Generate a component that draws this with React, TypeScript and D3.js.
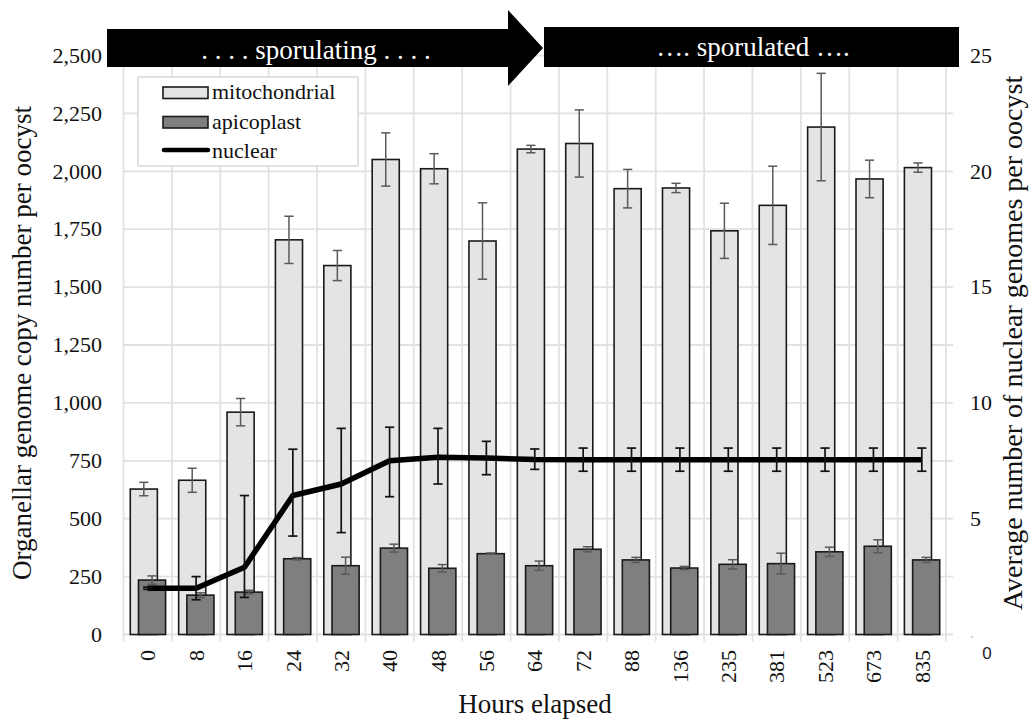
import React from "react";
import * as d3 from "d3";

const categories = ["0", "8", "16", "24", "32", "40", "48", "56", "64", "72", "88", "136", "235", "381", "523", "673", "835"];
const mitoValues = [628, 666, 960, 1704, 1593, 2051, 2011, 1699, 2096, 2120, 1925, 1928, 1743, 1853, 2191, 1967, 2016];
const mitoErrors = [29, 52, 59, 102, 65, 115, 65, 165, 16, 145, 83, 20, 119, 169, 232, 81, 20];
const apicoValues = [235, 170, 183, 327, 297, 373, 286, 349, 297, 368, 322, 287, 303, 306, 357, 381, 322];
const apicoErrors = [18, 10, 8, 5, 37, 17, 16, 3, 20, 11, 11, 7, 20, 45, 20, 28, 11];
const nuclearValues = [2.0, 2.0, 2.9, 6.0, 6.5, 7.5, 7.65, 7.62, 7.56, 7.55, 7.55, 7.55, 7.55, 7.55, 7.55, 7.55, 7.55];
const nuclearErrUp = [0.05, 0.5, 3.1, 2.0, 2.4, 1.45, 1.25, 0.72, 0.45, 0.5, 0.5, 0.5, 0.5, 0.5, 0.5, 0.5, 0.5];
const nuclearErrDown = [0.05, 0.5, 1.3, 1.75, 2.1, 1.55, 1.15, 0.72, 0.43, 0.5, 0.5, 0.5, 0.5, 0.5, 0.5, 0.5, 0.5];
const leftTicks = [0, 250, 500, 750, 1000, 1250, 1500, 1750, 2000, 2250, 2500];
const rightTicks = [5, 10, 15, 20, 25];

const SERIF = "'Liberation Serif', 'Times New Roman', serif";
const MITO_FILL = "#e4e4e4";
const APICO_FILL = "#7f7f7f";
const GRID = "#e2e2e2";

export default function App() {
  const x = d3.scaleBand<string>().domain(categories).range([123.5, 946]);
  const yL = d3.scaleLinear().domain([0, 2500]).range([634.5, 55.5]);
  const yR = d3.scaleLinear().domain([0, 25]).range([634.5, 55.5]);
  const bw = x.bandwidth();
  const center = (c: string) => (x(c) as number) + bw / 2;
  const mitoX = (c: string) => (x(c) as number) + bw * 0.14;
  const apicoX = (c: string) => (x(c) as number) + bw * 0.31;
  const barW = bw * 0.56;
  const cap = 4.6;

  const line = d3
    .line<number>()
    .x((_, i) => center(categories[i]))
    .y((d) => yR(d));

  const boundaries = categories.map((c) => x(c) as number).concat([x.range()[1]]);

  return (
    <svg width={1032} height={719} style={{ position: "absolute", left: 0, top: 0, background: "#fff" }}>
      {leftTicks.map((t) => (
        <line key={"h" + t} x1={123.5} x2={953} y1={yL(t)} y2={yL(t)} stroke={GRID} strokeWidth={1.8} />
      ))}
      {boundaries.map((b, i) => (
        <line key={"v" + i} x1={b} x2={b} y1={yL(2500)} y2={yL(0) + 7} stroke={GRID} strokeWidth={1.8} />
      ))}

      {categories.map((c, i) => (
        <rect
          key={"m" + c}
          x={mitoX(c)}
          y={yL(mitoValues[i])}
          width={barW}
          height={yL(0) - yL(mitoValues[i])}
          fill={MITO_FILL}
          stroke="#1a1a1a"
          strokeWidth={1.6}
        />
      ))}
      {categories.map((c, i) => {
        const cx = mitoX(c) + barW / 2;
        const y1 = yL(mitoValues[i] + mitoErrors[i]);
        const y2 = yL(mitoValues[i] - mitoErrors[i]);
        return (
          <g key={"me" + c} stroke="#5a5a5a" strokeWidth={1.5}>
            <line x1={cx} x2={cx} y1={y1} y2={y2} />
            <line x1={cx - cap} x2={cx + cap} y1={y1} y2={y1} />
            <line x1={cx - cap} x2={cx + cap} y1={y2} y2={y2} />
          </g>
        );
      })}
      {categories.map((c, i) => (
        <rect
          key={"a" + c}
          x={apicoX(c)}
          y={yL(apicoValues[i])}
          width={barW}
          height={yL(0) - yL(apicoValues[i])}
          fill={APICO_FILL}
          stroke="#1a1a1a"
          strokeWidth={1.6}
        />
      ))}
      {categories.map((c, i) => {
        const cx = apicoX(c) + barW / 2;
        const y1 = yL(apicoValues[i] + apicoErrors[i]);
        const y2 = yL(apicoValues[i] - apicoErrors[i]);
        return (
          <g key={"ae" + c} stroke="#5a5a5a" strokeWidth={1.5}>
            <line x1={cx} x2={cx} y1={y1} y2={y2} />
            <line x1={cx - cap} x2={cx + cap} y1={y1} y2={y1} />
            <line x1={cx - cap} x2={cx + cap} y1={y2} y2={y2} />
          </g>
        );
      })}

      <path d={line(nuclearValues) || ""} fill="none" stroke="#000" strokeWidth={5.5} strokeLinejoin="round" />
      {categories.map((c, i) => {
        const cx = center(c);
        const y1 = yR(nuclearValues[i] + nuclearErrUp[i]);
        const y2 = yR(nuclearValues[i] - nuclearErrDown[i]);
        return (
          <g key={"ne" + c} stroke="#111" strokeWidth={1.7}>
            <line x1={cx} x2={cx} y1={y1} y2={y2} />
            <line x1={cx - cap} x2={cx + cap} y1={y1} y2={y1} />
            <line x1={cx - cap} x2={cx + cap} y1={y2} y2={y2} />
          </g>
        );
      })}

      {leftTicks.map((t) => (
        <text key={"lt" + t} x={102} y={yL(t)} dy="0.33em" textAnchor="end" fontFamily={SERIF} fontSize={22} fill="#111">
          {d3.format(",")(t)}
        </text>
      ))}
      {rightTicks.map((t) => (
        <text key={"rt" + t} x={970} y={yR(t)} dy="0.33em" textAnchor="start" fontFamily={SERIF} fontSize={22} fill="#111">
          {t}
        </text>
      ))}
      <text x={987} y={659} textAnchor="middle" fontFamily="'Liberation Sans', Arial, sans-serif" fontSize={17} fill="#222">
        0
      </text>
      <circle cx={972} cy={637} r={0.8} fill="#999" />

      {categories.map((c) => (
        <text
          key={"xt" + c}
          transform={`translate(${center(c)},${650}) rotate(-90)`}
          dy="0.35em"
          textAnchor="end"
          fontFamily={SERIF}
          fontSize={22}
          fill="#111"
        >
          {c}
        </text>
      ))}

      <text transform="translate(31,343) rotate(-90)" textAnchor="middle" fontFamily={SERIF} fontSize={27} fill="#111">
        Organellar genome copy number per oocyst
      </text>
      <text transform="translate(1022,343) rotate(-90)" textAnchor="middle" fontFamily={SERIF} fontSize={28} fill="#111">
        Average number of nuclear genomes per oocyst
      </text>
      <text x={535} y={713} textAnchor="middle" fontFamily={SERIF} fontSize={27} fill="#111">
        Hours elapsed
      </text>

      <polygon points="107,29 508,29 508,10 543,48 508,86 508,67 107,67" fill="#000" />
      <text x={316} y={59} textAnchor="middle" fontFamily={SERIF} fontSize={27} fill="#fff">
        . . . . sporulating . . . .
      </text>
      <rect x={544} y={27} width={415} height={40} fill="#000" />
      <text x={753} y={56} textAnchor="middle" fontFamily={SERIF} fontSize={27} fill="#fff">
        {"\u2026. sporulated \u2026."}
      </text>

      <rect x={138} y={77} width={220} height={89} fill="#fff" stroke="#d9d9d9" strokeWidth={1.5} />
      <rect x={163} y={87} width={45} height={11.5} fill={MITO_FILL} stroke="#1a1a1a" strokeWidth={1.6} />
      <text x={212} y={99} fontFamily={SERIF} fontSize={22} fill="#111">mitochondrial</text>
      <rect x={163} y={116.5} width={45} height={11.5} fill={APICO_FILL} stroke="#1a1a1a" strokeWidth={1.6} />
      <text x={212} y={128.5} fontFamily={SERIF} fontSize={22} fill="#111">apicoplast</text>
      <line x1={164} x2={208} y1={150} y2={150} stroke="#000" strokeWidth={4.5} strokeLinecap="round" />
      <text x={212} y={158} fontFamily={SERIF} fontSize={22} fill="#111">nuclear</text>
    </svg>
  );
}
